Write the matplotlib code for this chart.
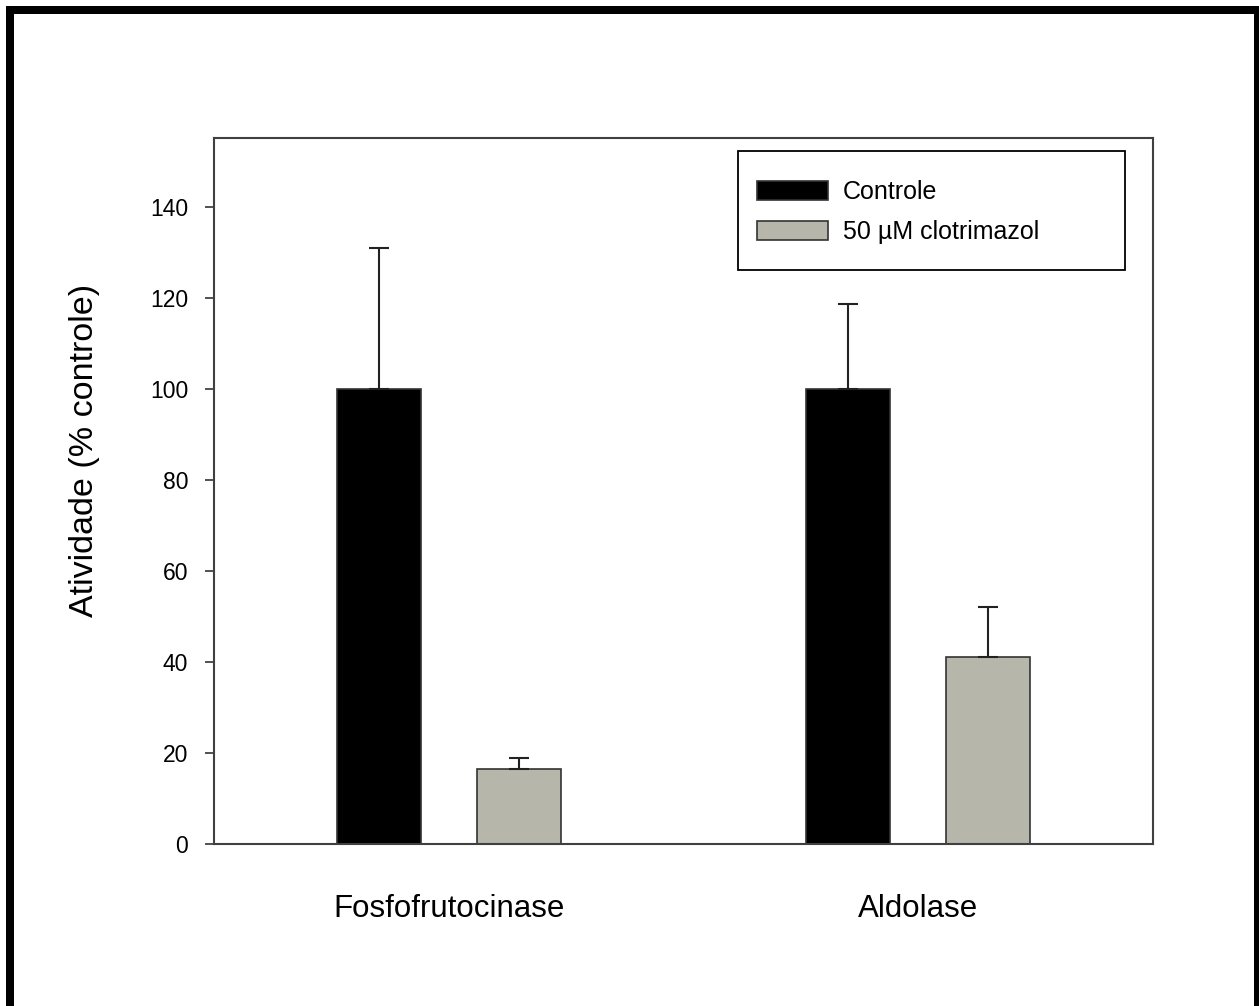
import matplotlib
matplotlib.use("Agg")
import matplotlib.pyplot as plt
import numpy as np
from matplotlib.lines import Line2D
from matplotlib.patches import Rectangle

plt.rcParams['font.family'] = ['Liberation Sans', 'DejaVu Sans']

categories = ["Fosfofrutocinase", "Aldolase"]
controle = [100.0, 100.0]
controle_err = [31.0, 18.7]
clotrimazol = [16.5, 41.1]
clotrimazol_err = [2.5, 11.0]
yticks = [0, 20, 40, 60, 80, 100, 120, 140]
series_labels = ["Controle", "50 \u00b5M clotrimazol"]

W, H = 1259, 1006
fig = plt.figure(figsize=(W / 100, H / 100), dpi=100)
AX_L, AX_R, AX_T, AX_B = 214, 1153, 138, 844
ax = fig.add_axes([AX_L / W, 1 - AX_B / H, (AX_R - AX_L) / W, (AX_B - AX_T) / H])

def axx(px):
    return (px - AX_L) / (AX_R - AX_L)

def axy(py):
    return (AX_B - py) / (AX_B - AX_T)

x = np.arange(len(categories))
bw = 0.179
off = 0.149
edge = '#333333'
gray = '#b6b6aa'

ax.bar(x - off, controle, bw, color='black', edgecolor=edge, linewidth=1.2,
       label=series_labels[0], zorder=2)
ax.bar(x + off, clotrimazol, bw, color=gray, edgecolor=edge, linewidth=1.2,
       label=series_labels[1], zorder=2)
ax.errorbar(x - off, controle, yerr=[np.zeros(len(x)), controle_err], fmt='none',
            ecolor='#222222', elinewidth=1.5, capsize=7.2, capthick=1.5, zorder=3)
ax.errorbar(x + off, clotrimazol, yerr=[np.zeros(len(x)), clotrimazol_err], fmt='none',
            ecolor='#222222', elinewidth=1.5, capsize=7.2, capthick=1.5, zorder=3)

ax.set_xlim(-0.5, 1.5)
ax.set_ylim(0, 155.1)
ax.set_yticks(yticks)
ax.set_yticklabels([str(v) for v in yticks], fontsize=16.5)
ax.set_xticks(x)
ax.set_xticklabels(categories, fontsize=22.5)
ax.tick_params(axis='x', length=0, pad=36)
ax.tick_params(axis='y', direction='out', length=6.5, width=1.2, color='#333333', pad=12)

for s in ax.spines.values():
    s.set_color('#404040')
    s.set_linewidth(1.5)

ax.set_ylabel("Atividade (% controle)", fontsize=24.5, va='center')
ax.yaxis.set_label_coords(axx(85), axy(450))

# legend box
ax.add_patch(Rectangle((axx(738), axy(270)), axx(1125) - axx(738), axy(151) - axy(270),
                       transform=ax.transAxes, facecolor='white', edgecolor='black',
                       linewidth=1.3, zorder=4))
leg = ax.legend(loc='upper left', bbox_to_anchor=(axx(757), axy(180)),
                fontsize=18, frameon=False,
                borderaxespad=0, borderpad=0, labelspacing=0.65,
                handlelength=2.85, handleheight=0.8, handletextpad=0.6)
leg.set_zorder(5)

# outer thick border (left, top, right)
lw = 8 * 72 / 100
fig.add_artist(Line2D([10 / W, 10 / W], [0, 1 - 6 / H], transform=fig.transFigure,
                      color='black', linewidth=lw, solid_capstyle='butt'))
fig.add_artist(Line2D([6 / W, 1 - 1 / W], [1 - 10 / H, 1 - 10 / H], transform=fig.transFigure,
                      color='black', linewidth=lw, solid_capstyle='butt'))
fig.add_artist(Line2D([1 - 1 / W, 1 - 1 / W], [0, 1 - 6 / H], transform=fig.transFigure,
                      color='black', linewidth=lw, solid_capstyle='butt'))

fig.savefig("out.png", dpi=100)
